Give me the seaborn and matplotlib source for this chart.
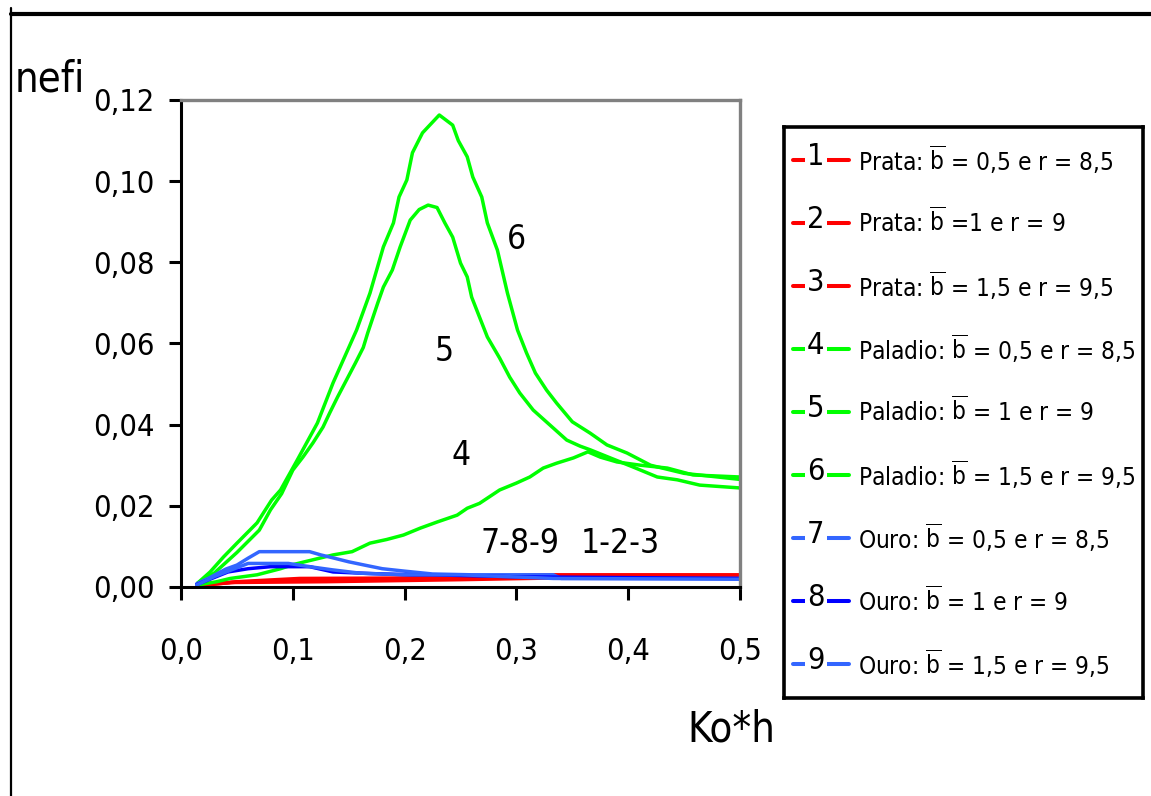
import numpy as np
import seaborn as sns
import matplotlib.pyplot as plt
from matplotlib import font_manager
from matplotlib.lines import Line2D

# Curvas nefi x Ko*h
# Prata
x1 = [0.015, 0.045, 0.13, 0.25, 0.33, 0.50]
y1 = [0.0003, 0.0011, 0.0013, 0.0018, 0.0022, 0.0024]
x2 = [0.015, 0.05, 0.10, 0.20, 0.33, 0.50]
y2 = [0.0004, 0.0012, 0.0016, 0.0021, 0.0026, 0.0027]
x3 = [0.015, 0.05, 0.106, 0.196, 0.33, 0.50]
y3 = [0.0005, 0.0013, 0.0021, 0.0022, 0.0030, 0.0030]

# Paladio
x4 = [0.015, 0.032, 0.044, 0.068, 0.089, 0.100, 0.124, 0.136, 0.153, 0.169, 0.184, 0.199,
      0.214, 0.229, 0.247, 0.256, 0.267, 0.285, 0.300, 0.312, 0.324, 0.336, 0.351, 0.364,
      0.375, 0.390, 0.411, 0.435, 0.458, 0.500]
y4 = [0.0005, 0.0013, 0.0021, 0.0030, 0.0045, 0.0055, 0.0071, 0.0079, 0.0087, 0.0108, 0.0117, 0.0128,
      0.0145, 0.0160, 0.0177, 0.0194, 0.0206, 0.0239, 0.0256, 0.0271, 0.0293, 0.0305, 0.0318, 0.0333,
      0.0320, 0.0308, 0.0300, 0.0293, 0.0276, 0.0271]
x5 = [0.015, 0.030, 0.050, 0.070, 0.080, 0.090, 0.100, 0.109, 0.118, 0.127, 0.133, 0.140,
      0.148, 0.156, 0.163, 0.167, 0.176, 0.181, 0.189, 0.196, 0.205, 0.213, 0.221, 0.229,
      0.236, 0.243, 0.250, 0.256, 0.260, 0.267, 0.274, 0.285, 0.294, 0.303, 0.315, 0.330,
      0.345, 0.357, 0.366, 0.384, 0.404, 0.426, 0.444, 0.464, 0.500]
y5 = [0.0010, 0.0035, 0.0085, 0.0140, 0.0190, 0.0230, 0.0288, 0.0320, 0.0355, 0.0394, 0.0429, 0.0468,
      0.0510, 0.0552, 0.0590, 0.0626, 0.0700, 0.0739, 0.0781, 0.0838, 0.0904, 0.0930, 0.0941, 0.0935,
      0.0897, 0.0862, 0.0798, 0.0764, 0.0714, 0.0665, 0.0616, 0.0564, 0.0517, 0.0478, 0.0436, 0.0399,
      0.0362, 0.0347, 0.0338, 0.0318, 0.0296, 0.0271, 0.0264, 0.0251, 0.0244]
x6 = [0.015, 0.026, 0.038, 0.050, 0.068, 0.081, 0.089, 0.104, 0.122, 0.136, 0.157, 0.169,
      0.181, 0.190, 0.195, 0.202, 0.207, 0.216, 0.231, 0.243, 0.248, 0.256, 0.261, 0.269,
      0.274, 0.283, 0.292, 0.301, 0.309, 0.317, 0.327, 0.336, 0.350, 0.366, 0.381, 0.399,
      0.420, 0.450, 0.500]
y6 = [0.0010, 0.0037, 0.0074, 0.0108, 0.0158, 0.0214, 0.0239, 0.0313, 0.0404, 0.0503, 0.0633, 0.0724,
      0.0838, 0.0897, 0.0961, 0.1003, 0.1070, 0.1119, 0.1163, 0.1138, 0.1100, 0.1060, 0.1010, 0.0961,
      0.0897, 0.0830, 0.0724, 0.0633, 0.0577, 0.0527, 0.0485, 0.0453, 0.0407, 0.0379, 0.0350, 0.0330,
      0.0300, 0.0280, 0.0265]

# Ouro
x7 = [0.014, 0.025, 0.040, 0.050, 0.060, 0.070, 0.090, 0.115, 0.125, 0.137, 0.150, 0.164,
      0.180, 0.200, 0.225, 0.260, 0.333, 0.340, 0.500]
y7 = [0.0008, 0.0022, 0.0044, 0.0054, 0.0071, 0.0087, 0.0087, 0.0087, 0.0079, 0.0071, 0.0062, 0.0054,
      0.0045, 0.0039, 0.0032, 0.0030, 0.0030, 0.0021, 0.0021]
x8 = [0.014, 0.042, 0.060, 0.080, 0.115, 0.136, 0.170, 0.206, 0.224, 0.300, 0.500]
y8 = [0.0006, 0.0037, 0.0045, 0.0050, 0.0050, 0.0037, 0.0033, 0.0030, 0.0030, 0.0025, 0.0021]
x9 = [0.014, 0.030, 0.045, 0.060, 0.096, 0.115, 0.136, 0.160, 0.200, 0.250, 0.333, 0.500]
y9 = [0.0005, 0.0026, 0.0042, 0.0058, 0.0058, 0.0050, 0.0042, 0.0034, 0.0030, 0.0030, 0.0021, 0.0019]

cores = ['#FF0000', '#FF0000', '#FF0000', '#00FF00', '#00FF00', '#00FF00', '#3366FF', '#0000FF', '#3366FF']
legendas = ['Prata: $\\overline{\\mathrm{b}}$ = 0,5 e r = 8,5',
            'Prata: $\\overline{\\mathrm{b}}$ =1 e r = 9',
            'Prata: $\\overline{\\mathrm{b}}$ = 1,5 e r = 9,5',
            'Paladio: $\\overline{\\mathrm{b}}$ = 0,5 e r = 8,5',
            'Paladio: $\\overline{\\mathrm{b}}$ = 1 e r = 9',
            'Paladio: $\\overline{\\mathrm{b}}$ = 1,5 e r = 9,5',
            'Ouro: $\\overline{\\mathrm{b}}$ = 0,5 e r = 8,5',
            'Ouro: $\\overline{\\mathrm{b}}$ = 1 e r = 9',
            'Ouro: $\\overline{\\mathrm{b}}$ = 1,5 e r = 9,5']

xticks = [0.0, 0.1, 0.2, 0.3, 0.4, 0.5]
xtick_labels = ['0,0', '0,1', '0,2', '0,3', '0,4', '0,5']
yticks = [0.0, 0.02, 0.04, 0.06, 0.08, 0.10, 0.12]
ytick_labels = ['0,00', '0,02', '0,04', '0,06', '0,08', '0,10', '0,12']

# rótulos das curvas: texto, x, y
rotulos = [('6', 0.2996, 0.0855), ('5', 0.2352, 0.0579), ('4', 0.2504, 0.0325),
           ('7-8-9', 0.3032, 0.0108), ('1-2-3', 0.3927, 0.0108)]

sns.set_theme(style='white')

# procura uma fonte estreita (o original usa Arial Narrow)
estreitas = [f for f in font_manager.fontManager.ttflist
             if ('Narrow' in f.name or 'Condensed' in f.name
                 or str(f.stretch) in ('condensed', 'semi-condensed', 'extra-condensed'))
             and 'Mono' not in f.name and f.weight in (400, 'normal', 'regular')]
if estreitas:
    fonte = estreitas[0].name
    plt.rcParams['font.stretch'] = estreitas[0].stretch
    esc = 1.0
else:
    fonte = 'Liberation Sans'
    esc = 0.9
plt.rcParams['font.family'] = [fonte, 'DejaVu Sans']
plt.rcParams['mathtext.fontset'] = 'custom'
plt.rcParams['mathtext.rm'] = fonte
plt.rcParams['mathtext.it'] = fonte
plt.rcParams['text.color'] = 'black'

fig = plt.figure(figsize=(11.51, 7.96), dpi=100)
fig.patch.set_facecolor('white')

# moldura externa (topo e esquerda)
fig.add_artist(Line2D([11 / 1151, 1.0], [1 - 14 / 796, 1 - 14 / 796], transform=fig.transFigure,
                      color='black', lw=3))
fig.add_artist(Line2D([11 / 1151, 11 / 1151], [0.0, 1 - 8 / 796], transform=fig.transFigure,
                      color='black', lw=1.6))

ax = fig.add_axes([0.1573, 0.2626, 0.4856, 0.6118])
xs = [x1, x2, x3, x4, x5, x6, x7, x8, x9]
ys = [y1, y2, y3, y4, y5, y6, y7, y8, y9]
for x, y, cor in zip(xs, ys, cores):
    sns.lineplot(x=x, y=y, color=cor, lw=2.5, ax=ax, estimator=None, sort=False)

ax.set_xlim(0, 0.5)
ax.set_ylim(0, 0.12)
ax.set_xticks(xticks)
ax.set_xticklabels(xtick_labels)
ax.set_yticks(yticks)
ax.set_yticklabels(ytick_labels)
ax.set_xlabel('')
ax.set_ylabel('')
for lado in ['left', 'bottom']:
    ax.spines[lado].set_color('black')
    ax.spines[lado].set_linewidth(2.2)
for lado in ['top', 'right']:
    ax.spines[lado].set_color('#808080')
    ax.spines[lado].set_linewidth(2.4)
ax.tick_params(axis='both', direction='out', length=9, width=2.2, color='black',
               labelsize=22 * esc, labelcolor='black')
ax.tick_params(axis='x', bottom=True, pad=27)
ax.tick_params(axis='y', left=True, pad=10)

for txt, xr, yr in rotulos:
    ax.text(xr, yr, txt, fontsize=24 * esc, ha='center', va='center')

fig.text(0.0434, 0.8995, 'nefi', fontsize=30 * esc, ha='center', va='center')
fig.text(0.635, 0.083, 'Ko*h', fontsize=30 * esc, ha='center', va='center')

# legenda desenhada à parte
lax = fig.add_axes([0.681, 0.1231, 0.312, 0.7174])
lax.set_xlim(0, 1)
lax.set_ylim(0, 1)
lax.set_xticks([])
lax.set_yticks([])
for lado in lax.spines.values():
    lado.set_color('black')
    lado.set_linewidth(2.6)
for i, (cor, leg) in enumerate(zip(cores, legendas)):
    yl = 1 - (160 + 63 * i - 127) / 571
    lax.plot([0.025, 0.181], [yl, yl], color=cor, lw=2.9)
    lax.text(0.089, yl + 0.006, str(i + 1), fontsize=22 * esc, ha='center',
             va='center', bbox=dict(facecolor='white', edgecolor='none', pad=1.5))
    lax.text(0.206, yl, leg, fontsize=17.5 * esc, ha='left', va='center')

fig.savefig('out.png', dpi=100)
